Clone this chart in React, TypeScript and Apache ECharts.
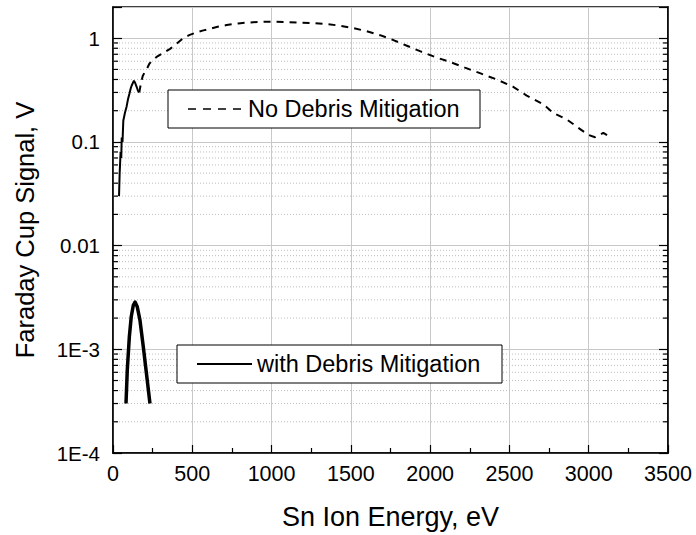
import React, { useEffect, useRef } from "react";
import * as echarts from "echarts";

const FONT = "'Liberation Sans', Arial, Helvetica, sans-serif";

// Sn ion energy (eV) and Faraday cup signal (V) — no debris mitigation
const noDebrisEnergy = [
  38, 42, 48, 52, 55, 60, 65, 75, 86, 95, 103, 112, 118, 132, 140, 149, 158, 166,
  175, 187, 200, 212, 230, 254, 275, 296, 330, 360, 400, 443, 480, 528, 570, 612,
  660, 717, 790, 864, 940, 1011, 1100, 1179, 1263, 1348, 1432, 1516, 1600, 1684,
  1768, 1850, 1936, 2030, 2125, 2220, 2314, 2420, 2524, 2609, 2714, 2777, 2861,
  2934, 2997, 3040, 3092, 3145,
];
const noDebrisSignal = [
  0.03, 0.05, 0.08, 0.07, 0.11, 0.1, 0.16, 0.19, 0.22, 0.26, 0.29, 0.33, 0.35, 0.39,
  0.37, 0.34, 0.31, 0.3, 0.36, 0.43, 0.47, 0.5, 0.57, 0.62, 0.66, 0.69, 0.74, 0.79,
  0.88, 1.0, 1.07, 1.14, 1.19, 1.23, 1.29, 1.34, 1.39, 1.42, 1.44, 1.44, 1.43, 1.41,
  1.4, 1.37, 1.32, 1.25, 1.17, 1.07, 0.96, 0.85, 0.75, 0.66, 0.59, 0.52, 0.46, 0.4,
  0.34, 0.28, 0.23, 0.19, 0.165, 0.137, 0.117, 0.111, 0.122, 0.109,
];
// with debris mitigation
const withDebrisEnergy = [82, 90, 103, 115, 128, 139, 153, 170, 191, 213, 233];
const withDebrisSignal = [
  3.0e-4, 6.3e-4, 1.32e-3, 2.06e-3, 2.66e-3, 2.86e-3, 2.57e-3, 1.91e-3, 1.06e-3,
  5.5e-4, 3.0e-4,
];

const legendNames = ["No Debris Mitigation", "with Debris Mitigation"];
const xMin = 0;
const xMax = 3500;
const xInterval = 500;
const yMin = 1e-4;
const yMax = 2;
const yDecades = [1e-4, 1e-3, 1e-2, 1e-1, 1];
const yTickLabels = ["1E-4", "1E-3", "0.01", "0.1", "1"];
const minorMultipliers = [2, 3, 4, 5, 6, 7, 8, 9];
const minorDecades = [1e-4, 1e-3, 1e-2, 1e-1];

const SOLID_END_ENERGY = 166;

function yLabel(v: number): string {
  const e = Math.log10(v);
  const r = Math.round(e);
  if (Math.abs(e - r) > 0.01) return "";
  const idx = yDecades.findIndex((d) => Math.abs(Math.log10(d) - r) < 0.01);
  return idx >= 0 ? yTickLabels[idx] : "";
}

export default function App() {
  const ref = useRef<HTMLDivElement>(null);

  useEffect(() => {
    if (!ref.current) return;
    const chart = echarts.init(ref.current, undefined, { renderer: "svg" });

    const allPts = noDebrisEnergy.map((e, i) => [e, noDebrisSignal[i]]);
    const solidPts = allPts.filter((p) => p[0] <= SOLID_END_ENERGY);
    const dashedPts = allPts.filter((p) => p[0] >= SOLID_END_ENERGY);
    const withPts = withDebrisEnergy.map((e, i) => [e, withDebrisSignal[i]]);

    const minorValues: number[][] = [];
    minorDecades.forEach((d) =>
      minorMultipliers.forEach((m) => minorValues.push([xMin, d * m]))
    );

    const option: any = {
      animation: false,
      backgroundColor: "#fff",
      textStyle: { fontFamily: FONT },
      grid: {
        left: 113,
        right: 28,
        top: 7,
        bottom: 78,
        show: true,
        borderColor: "#000",
        borderWidth: 1.5,
        backgroundColor: "transparent",
      },
      xAxis: [
        {
          type: "value",
          min: xMin,
          max: xMax,
          interval: xInterval,
          name: "Sn Ion Energy, eV",
          nameLocation: "middle",
          nameGap: 50,
          nameTextStyle: { fontSize: 27, color: "#000", fontFamily: FONT },
          axisLine: { show: true, lineStyle: { color: "#000", width: 1.5 } },
          axisTick: { show: true, inside: true, length: 8, lineStyle: { color: "#000", width: 1.2 } },
          minorTick: { show: true, splitNumber: 2, length: 5, lineStyle: { color: "#000", width: 1.2 } },
          axisLabel: {
            fontSize: 21.5,
            color: "#000",
            margin: 10,
            fontFamily: FONT,
            formatter: (v: number) => String(v),
          },
          splitLine: { show: true, lineStyle: { color: "#c8c8c8", width: 1 } },
        },
      ],
      yAxis: [
        {
          type: "log",
          min: yMin,
          max: yMax,
          logBase: 10,
          name: "Faraday Cup Signal, V",
          nameLocation: "middle",
          nameGap: 75,
          nameTextStyle: { fontSize: 25.5, color: "#000", fontFamily: FONT },
          axisLine: { show: true, lineStyle: { color: "#000", width: 1.5 } },
          axisTick: { show: true, inside: true, length: 9, lineStyle: { color: "#000", width: 1.2 } },
          axisLabel: {
            fontSize: 20.5,
            color: "#000",
            margin: 13,
            fontFamily: FONT,
            formatter: (v: number) => yLabel(v),
          },
          splitLine: { show: true, lineStyle: { color: "#c8c8c8", width: 1 } },
        },
        {
          type: "log",
          min: yMin,
          max: yMax,
          logBase: 10,
          position: "right",
          axisLine: { show: true, lineStyle: { color: "#000", width: 1.5 } },
          axisTick: { show: true, inside: true, length: 9, lineStyle: { color: "#000", width: 1.2 } },
          axisLabel: { show: false },
          splitLine: { show: false },
        },
      ],
      series: [
        {
          type: "custom",
          name: "minor",
          xAxisIndex: 0,
          yAxisIndex: 0,
          z: 1,
          silent: true,
          clip: true,
          data: minorValues,
          renderItem: (params: any, api: any) => {
            const v = api.value(1);
            const p0 = api.coord([xMin, v]);
            const p1 = api.coord([xMax, v]);
            return {
              type: "group",
              children: [
                {
                  type: "line",
                  shape: { x1: p0[0], y1: p0[1], x2: p1[0], y2: p1[1] },
                  style: { stroke: "#bdbdbd", lineWidth: 1, lineDash: [1, 2] },
                },
                {
                  type: "line",
                  shape: { x1: p0[0], y1: p0[1], x2: p0[0] + 5, y2: p0[1] },
                  style: { stroke: "#000", lineWidth: 1.2 },
                },
                {
                  type: "line",
                  shape: { x1: p1[0] - 5, y1: p1[1], x2: p1[0], y2: p1[1] },
                  style: { stroke: "#000", lineWidth: 1.2 },
                },
              ],
            };
          },
        },
        {
          type: "line",
          name: legendNames[0],
          z: 3,
          data: solidPts,
          symbol: "none",
          lineStyle: { color: "#000", width: 2 },
        },
        {
          type: "line",
          name: legendNames[0],
          z: 3,
          data: dashedPts,
          symbol: "none",
          lineStyle: { color: "#000", width: 2, type: [7, 6] },
        },
        {
          type: "line",
          name: legendNames[1],
          z: 3,
          data: withPts,
          symbol: "none",
          lineStyle: { color: "#000", width: 3.5, join: "round" },
        },
      ],
      graphic: [
        {
          type: "rect",
          z: 100,
          shape: { x: 168, y: 90, width: 312, height: 38 },
          style: { fill: "#fff", stroke: "#000", lineWidth: 1 },
        },
        {
          type: "line",
          z: 101,
          shape: { x1: 188, y1: 109, x2: 241, y2: 109 },
          style: { stroke: "#000", lineWidth: 1.5, lineDash: [8, 7] },
        },
        {
          type: "text",
          z: 101,
          x: 248,
          y: 109,
          style: {
            text: legendNames[0],
            fontSize: 23.5,
            fontFamily: FONT,
            fill: "#000",
            verticalAlign: "middle",
          },
        },
        {
          type: "rect",
          z: 100,
          shape: { x: 177, y: 345, width: 325, height: 38 },
          style: { fill: "#fff", stroke: "#000", lineWidth: 1 },
        },
        {
          type: "line",
          z: 101,
          shape: { x1: 197, y1: 364, x2: 252, y2: 364 },
          style: { stroke: "#000", lineWidth: 2 },
        },
        {
          type: "text",
          z: 101,
          x: 257,
          y: 364,
          style: {
            text: legendNames[1],
            fontSize: 23.5,
            fontFamily: FONT,
            fill: "#000",
            verticalAlign: "middle",
          },
        },
      ],
    };

    chart.setOption(option);
    return () => chart.dispose();
  }, []);

  return (
    <div
      ref={ref}
      style={{ position: "fixed", left: 0, top: 0, width: 696, height: 535, background: "#fff" }}
    />
  );
}
